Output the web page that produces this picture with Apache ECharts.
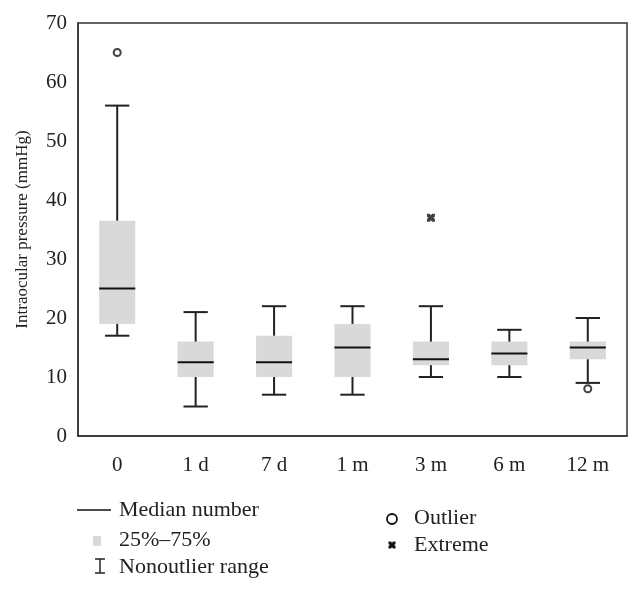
<!DOCTYPE html>
<html>
<head>
<meta charset="utf-8">
<script src="https://cdn.jsdelivr.net/npm/echarts@6/dist/echarts.min.js"></script>
<style>html,body{margin:0;padding:0;background:#fff}#c{width:642px;height:591px}</style>
</head>
<body>
<div id="c"></div>
<script>
const categories = ['0', '1 d', '7 d', '1 m', '3 m', '6 m', '12 m'];
const whiskerLow = [17, 5, 7, 7, 10, 10, 9];
const q1 = [19, 10, 10, 10, 12, 12, 13];
const median = [25, 12.5, 12.5, 15, 13, 14, 15];
const q3 = [36.5, 16, 17, 19, 16, 16, 16];
const whiskerHigh = [56, 21, 22, 22, 22, 18, 20];
const outliers = [[0, 65], [6, 8]];
const extremes = [[4, 37]];
const yTicks = [0, 10, 20, 30, 40, 50, 60, 70];

const FONT = '"Liberation Serif", "DejaVu Serif", serif';
const boxData = categories.map((c, i) => [i, whiskerLow[i], q1[i], median[i], q3[i], whiskerHigh[i]]);

function renderBox(params, api) {
  const i = api.value(0);
  const band = api.size([1, 0])[0];
  const bw = band * 0.46;
  const cw = band * 0.31;
  const pLo = api.coord([i, api.value(1)]);
  const pQ1 = api.coord([i, api.value(2)]);
  const pMed = api.coord([i, api.value(3)]);
  const pQ3 = api.coord([i, api.value(4)]);
  const pHi = api.coord([i, api.value(5)]);
  const x = pMed[0];
  const ls = { stroke: '#222', lineWidth: 2 };
  return {
    type: 'group',
    children: [
      { type: 'rect', shape: { x: x - bw / 2, y: pQ3[1], width: bw, height: pQ1[1] - pQ3[1] }, style: { fill: '#d9d9d9' } },
      { type: 'line', shape: { x1: x, y1: pQ3[1], x2: x, y2: pHi[1] }, style: ls },
      { type: 'line', shape: { x1: x - cw / 2, y1: pHi[1], x2: x + cw / 2, y2: pHi[1] }, style: ls },
      { type: 'line', shape: { x1: x, y1: pQ1[1], x2: x, y2: pLo[1] }, style: ls },
      { type: 'line', shape: { x1: x - cw / 2, y1: pLo[1], x2: x + cw / 2, y2: pLo[1] }, style: ls },
      { type: 'line', shape: { x1: x - bw / 2, y1: pMed[1], x2: x + bw / 2, y2: pMed[1] }, style: { stroke: '#111', lineWidth: 2 } }
    ]
  };
}

const STAR = [[0,0],[3.5,0],[5,1.8],[6.5,0],[10,0],[10,3.5],[8.2,5],[10,6.5],[10,10],[6.5,10],[5,8.2],[3.5,10],[0,10],[0,6.5],[1.8,5],[0,3.5]];
const starPath = 'path://M' + STAR.map(p => p[0] + ',' + p[1]).join(' L') + ' Z';

function txt(text, x, y) {
  return { type: 'text', x: x, y: y, style: { text: text, fontFamily: FONT, fontSize: 22, fill: '#222', verticalAlign: 'middle', align: 'left' } };
}
function star(cx, cy, s) {
  const k = s / 10;
  const pts = STAR.map(p => [cx - s / 2 + p[0] * k, cy - s / 2 + p[1] * k]);
  return { type: 'polygon', shape: { points: pts }, style: { fill: '#111' } };
}

const chart = echarts.init(document.getElementById('c'), null, { renderer: 'canvas' });
chart.setOption({
  animation: false,
  backgroundColor: '#fff',
  grid: { left: 78, right: 15, top: 23, bottom: 155, show: true, borderColor: '#333', borderWidth: 1.5, backgroundColor: 'transparent' },
  xAxis: {
    type: 'category', data: categories, boundaryGap: true,
    axisLine: { show: true, lineStyle: { color: '#333', width: 1.5 } },
    axisTick: { show: false },
    axisLabel: { fontFamily: FONT, fontSize: 21, color: '#222', margin: 19 },
    splitLine: { show: false }
  },
  yAxis: {
    type: 'value', min: 0, max: 70, interval: 10,
    name: 'Intraocular pressure (mmHg)', nameLocation: 'middle', nameGap: 47,
    nameTextStyle: { fontFamily: FONT, fontSize: 17, color: '#222' },
    axisLine: { show: true, lineStyle: { color: '#333', width: 1.5 } },
    axisTick: { show: false },
    axisLabel: { fontFamily: FONT, fontSize: 21, color: '#222', margin: 11,
      formatter: v => yTicks.includes(v) ? String(v) : '' },
    splitLine: { show: false }
  },
  series: [
    { type: 'custom', renderItem: renderBox, data: boxData, encode: { x: 0, y: [1, 2, 3, 4, 5] }, z: 2 },
    { type: 'scatter', data: outliers, symbol: 'circle', symbolSize: 7,
      itemStyle: { color: '#fff', borderColor: '#111', borderWidth: 2 }, z: 3 },
    { type: 'scatter', data: extremes, symbol: starPath, symbolSize: 8,
      itemStyle: { color: '#111' }, z: 3 }
  ],
  graphic: [
    { type: 'line', shape: { x1: 77, y1: 510, x2: 111, y2: 510 }, style: { stroke: '#111', lineWidth: 1.5 } },
    txt('Median number', 119, 510),
    { type: 'rect', shape: { x: 93, y: 536, width: 8, height: 10 }, style: { fill: '#d9d9d9' } },
    txt('25%–75%', 119, 540),
    { type: 'line', shape: { x1: 100, y1: 559, x2: 100, y2: 573 }, style: { stroke: '#222', lineWidth: 1.5 } },
    { type: 'line', shape: { x1: 95, y1: 559, x2: 105, y2: 559 }, style: { stroke: '#222', lineWidth: 1.5 } },
    { type: 'line', shape: { x1: 95, y1: 573, x2: 105, y2: 573 }, style: { stroke: '#222', lineWidth: 1.5 } },
    txt('Nonoutlier range', 119, 567),
    { type: 'circle', shape: { cx: 392, cy: 519, r: 5 }, style: { fill: '#fff', stroke: '#111', lineWidth: 1.8 } },
    txt('Outlier', 414, 518),
    star(392, 545, 7),
    txt('Extreme', 414, 545)
  ]
});
</script>
</body>
</html>
